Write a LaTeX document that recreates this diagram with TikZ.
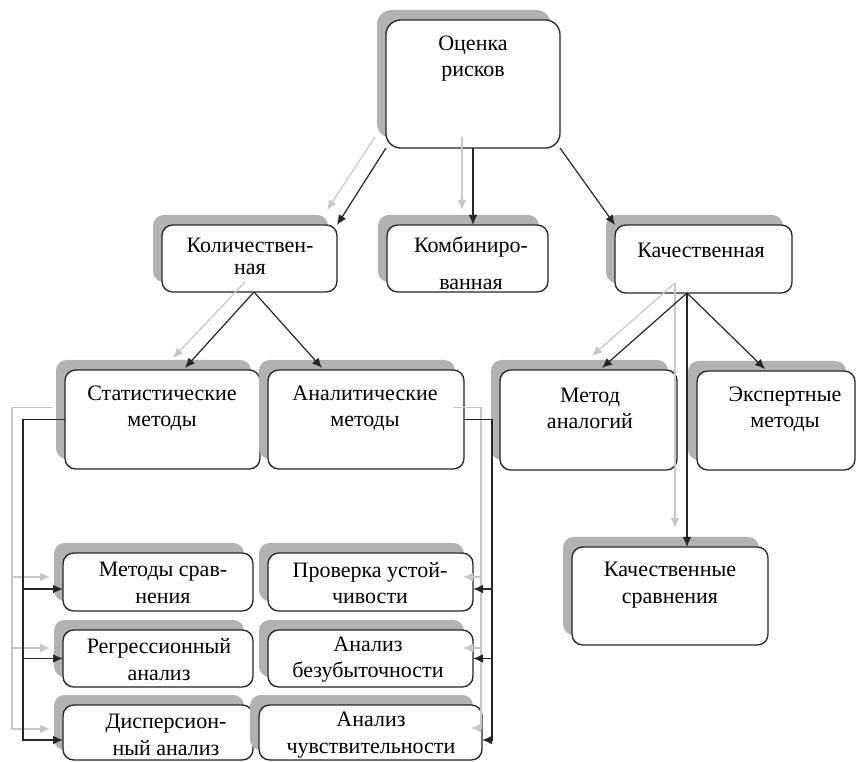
\documentclass[tikz,border=0pt]{standalone}
\usepackage{fontspec}
\setmainfont{Liberation Serif}
\newfontfamily\rusfont{Liberation Serif}
\usetikzlibrary{arrows.meta,shadows,calc}
\begin{document}
\begin{tikzpicture}[x=0.75pt,y=-0.75pt,
 box/.style={draw=black!85, line width=1pt, rounded corners=8pt, fill=white, outer sep=0pt, inner sep=0pt,
   general shadow={fill=black!30, shadow xshift=-6.75pt, shadow yshift=7.5pt}},
 wh/.style 2 args={minimum width=#1*0.75pt, minimum height=#2*0.75pt},
 txt/.style={align=center, font=\rusfont\fontsize{16.5}{20}\selectfont, inner sep=0pt},
 arr/.style={draw=black!85, line width=0.9pt, -{Latex[length=7.5pt,width=6.5pt]}},
 sarr/.style={draw=black!22, line width=0.9pt, -{Latex[length=7.5pt,width=6.5pt]}},
 bus/.style={draw=black!85, line width=0.9pt},
 sbus/.style={draw=black!22, line width=0.9pt}]
\useasboundingbox (0,0) rectangle (857,762);

% boxes
\node[box, wh={174}{128}, rounded corners=11pt] (top) at (473,84) {};
\node[box, wh={175}{67}] (kol) at (249.5,258.5) {};
\node[box, wh={161}{67}] (komb) at (467.5,258.5) {};
\node[box, wh={177}{68}] (kach) at (703.5,259) {};
\node[box, wh={195}{99}] (stat) at (162.5,419.5) {};
\node[box, wh={196}{99}] (anal) at (366,419.5) {};
\node[box, wh={177}{100}] (analog) at (588.5,420) {};
\node[box, wh={158}{99}] (expert) at (776,420.5) {};
\node[box, wh={196}{98}] (kachsr) at (670,596) {};
\node[box, wh={190}{58}] (metsr) at (158,582) {};
\node[box, wh={205}{58}] (prov) at (370.5,582) {};
\node[box, wh={190}{57}] (regr) at (158,658.5) {};
\node[box, wh={205}{57}] (bezub) at (370.5,658.5) {};
\node[box, wh={190}{55}] (disp) at (158,732.5) {};
\node[box, wh={223}{55}] (chuv) at (370.5,732.5) {};

% texts
\node[txt] (t1) at (473,58.5) {Оценка\\рисков};
\node[txt] (t2) at (250,256.5) {Количествен-\\[-3pt]ная};
\node[txt] (t3) at (471,263.5) {Комбиниро-\\[7.5pt]ванная};
\node[txt] (t4) at (701,250) {Качественная};
\node[txt] (t5) at (162,408.5) {Статистические\\методы};
\node[txt] (t6) at (365,408.5) {Аналитические\\методы};
\node[txt] (t7) at (590,408.5) {Метод\\аналогий};
\node[txt] (t8) at (785,409.5) {Экспертные\\методы};
\node[txt] (t9) at (670,585) {Качественные\\сравнения};
\node[txt] (t10) at (163,583) {Методы срав-\\нения};
\node[txt] (t11) at (370,583) {Проверка устой-\\чивости};
\node[txt] (t12) at (159,659.5) {Регрессионный\\анализ};
\node[txt] (t13) at (368,659.5) {Анализ\\безубыточности};
\node[txt] (t14) at (166,735) {Дисперсион-\\ный анализ};
\node[txt] (t15) at (371,735) {Анализ\\чувствительности};

% grey shadow connectors
\draw[sarr] ($(top.south west)+(-11,-11)$) -- ($(kol.north east)+(-10,-15)$);
\draw[sarr] ($(top.south)+(-11,-11)$) -- ($(top.south |- komb.north)+(-11,-15)$);
\coordinate (kA) at ($(kol.south)+(4.5,0)$);
\draw[sarr] ($(kA)+(-9,-10)$) -- ($(stat.north)+(10.5,-12)$);
\coordinate (qA) at ($(kach.south)+(-16.5,0)$);
\draw[sarr] ($(qA)+(-12,-10)$) -- ($(analog.north)+(3.5,-14)$);
\draw[sarr] ($(qA)+(-12,-10)$) -- ($(qA |- kachsr.north)+(-12,-19)$);

\coordinate (lbT) at (stat.west -| 23,0);
\coordinate (glT) at ($(lbT)+(-11,-12)$);
\draw[sbus] ($(stat.west)+(-12,-12)$) -- (glT);
\draw[sarr] (glT) |- ($(metsr.west)+(-13,-5)$);
\draw[sarr] (glT) |- ($(regr.west)+(-13,-10.5)$);
\draw[sarr] (glT) |- ($(disp.west)+(-13,-3.5)$);

\coordinate (rbT) at (anal.east -| 492,0);
\coordinate (grT) at ($(rbT)+(-11,-12)$);
\draw[sbus] ($(anal.east)+(-11,-12)$) -- (grT);
\draw[sarr] (grT) |- ($(prov.east)+(-10,-5)$);
\draw[sarr] (grT) |- ($(bezub.east)+(-10,-10.5)$);
\draw[sarr] (grT) |- ($(chuv.east)+(-11,-4.5)$);

% black connectors
\draw[arr] (top.south west) -- (kol.north east);
\draw[arr] (top.south) -- (top.south |- komb.north);
\draw[arr] (top.south east) -- (kach.north west);

\draw[arr] (kA) -- ($(stat.north)+(22.5,-2)$);
\draw[arr] (kA) -- ($(anal.north)+(-44,-2)$);

\draw[arr] (qA) -- ($(analog.north)+(13.5,-2)$);
\draw[arr] (qA) -- ($(expert.north)+(-11,-2)$);
\draw[arr] (qA) -- (qA |- kachsr.north);

\draw[bus] (stat.west) -- (lbT);
\draw[arr] (lbT) |- ($(metsr.west)+(0,7)$);
\draw[arr] (lbT) |- (regr.west);
\draw[arr] (lbT) |- ($(disp.west)+(0,7.5)$);

\draw[bus] (anal.east) -- (rbT);
\draw[arr] (rbT) |- ($(prov.east)+(0,7)$);
\draw[arr] (rbT) |- (bezub.east);
\draw[arr] (rbT) |- ($(chuv.east)+(0,7.5)$);
\end{tikzpicture}
\end{document}
